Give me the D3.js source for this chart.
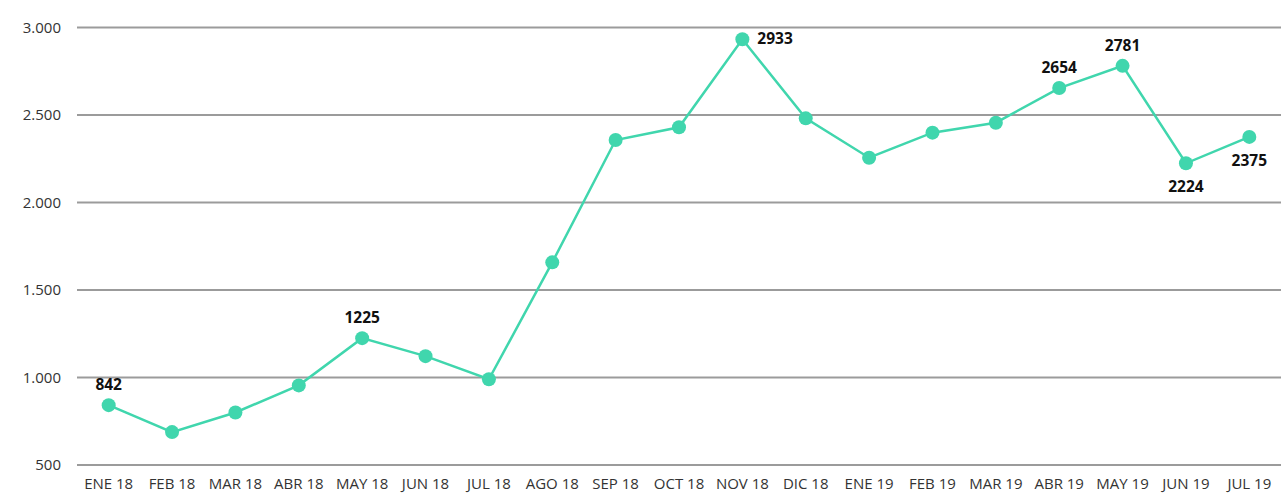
<!DOCTYPE html>
<html>
<head>
<meta charset="utf-8">
<script src="https://cdn.jsdelivr.net/npm/d3@7"></script>
<style>
  body { margin: 0; background: #fff; }
  svg text { font-family: "Open Sans", "DejaVu Sans", sans-serif; }
</style>
</head>
<body>
<div id="chart"></div>
<script>
var width = 1281,
    height = 495;

var months = ["ENE 18", "FEB 18", "MAR 18", "ABR 18", "MAY 18", "JUN 18", "JUL 18", "AGO 18", "SEP 18", "OCT 18",
              "NOV 18", "DIC 18", "ENE 19", "FEB 19", "MAR 19", "ABR 19", "MAY 19", "JUN 19", "JUL 19"];
var values = [842, 688, 800, 955, 1225, 1122, 990, 1658, 2357, 2430,
              2933, 2481, 2256, 2399, 2456, 2654, 2781, 2224, 2375];
// which points carry a label and where it goes
var labelPos = { "ENE 18": "top", "MAY 18": "top", "NOV 18": "right", "ABR 19": "top",
                 "MAY 19": "top", "JUN 19": "bottom", "JUL 19": "bottom" };
var yTicks = [500, 1000, 1500, 2000, 2500, 3000];

var x = d3.scalePoint().domain(months).range([77, 1281]).padding(0.5);
var y = d3.scaleLinear().domain([500, 3000]).range([465, 27.5]);

var svg = d3.select("#chart").append("svg")
  .attr("width", width)
  .attr("height", height);

var fmt = function(v) { return d3.format(",")(v).replace(/,/g, "."); };

// gridlines
svg.append("g").selectAll("line")
  .data(yTicks)
  .enter().append("line")
  .attr("x1", 77).attr("x2", width)
  .attr("y1", function(d) { return y(d); })
  .attr("y2", function(d) { return y(d); })
  .attr("stroke", "#9b9b9b")
  .attr("stroke-width", 2);

// y labels
svg.append("g").selectAll("text")
  .data(yTicks)
  .enter().append("text")
  .attr("x", 61)
  .attr("y", function(d) { return y(d) + 5; })
  .attr("text-anchor", "end")
  .attr("font-size", 15)
  .attr("fill", "#333")
  .text(fmt);

// x labels
svg.append("g").selectAll("text")
  .data(months)
  .enter().append("text")
  .attr("x", function(d) { return x(d); })
  .attr("y", 489)
  .attr("text-anchor", "middle")
  .attr("font-size", 15)
  .attr("fill", "#333")
  .text(function(d) { return d; });

var line = d3.line()
  .x(function(d, i) { return x(months[i]); })
  .y(function(d) { return y(d); });

svg.append("path")
  .datum(values)
  .attr("d", line)
  .attr("fill", "none")
  .attr("stroke", "#40d6ad")
  .attr("stroke-width", 2.5);

svg.append("g").selectAll("circle")
  .data(values)
  .enter().append("circle")
  .attr("cx", function(d, i) { return x(months[i]); })
  .attr("cy", function(d) { return y(d); })
  .attr("r", 7)
  .attr("fill", "#40d6ad");

// value labels
svg.append("g").selectAll("text")
  .data(months.filter(function(m) { return labelPos[m]; }))
  .enter().append("text")
  .attr("x", function(m) { return labelPos[m] == "right" ? x(m) + 15 : x(m); })
  .attr("y", function(m) {
    var v = values[months.indexOf(m)], p = labelPos[m];
    if (p == "top") return y(v) - 15;
    if (p == "bottom") return y(v) + 29;
    return y(v) + 5;
  })
  .attr("text-anchor", function(m) { return labelPos[m] == "right" ? "start" : "middle"; })
  .attr("font-size", 15.5)
  .attr("font-weight", "bold")
  .attr("fill", "#111")
  .text(function(m) { return values[months.indexOf(m)]; });
</script>
</body>
</html>
